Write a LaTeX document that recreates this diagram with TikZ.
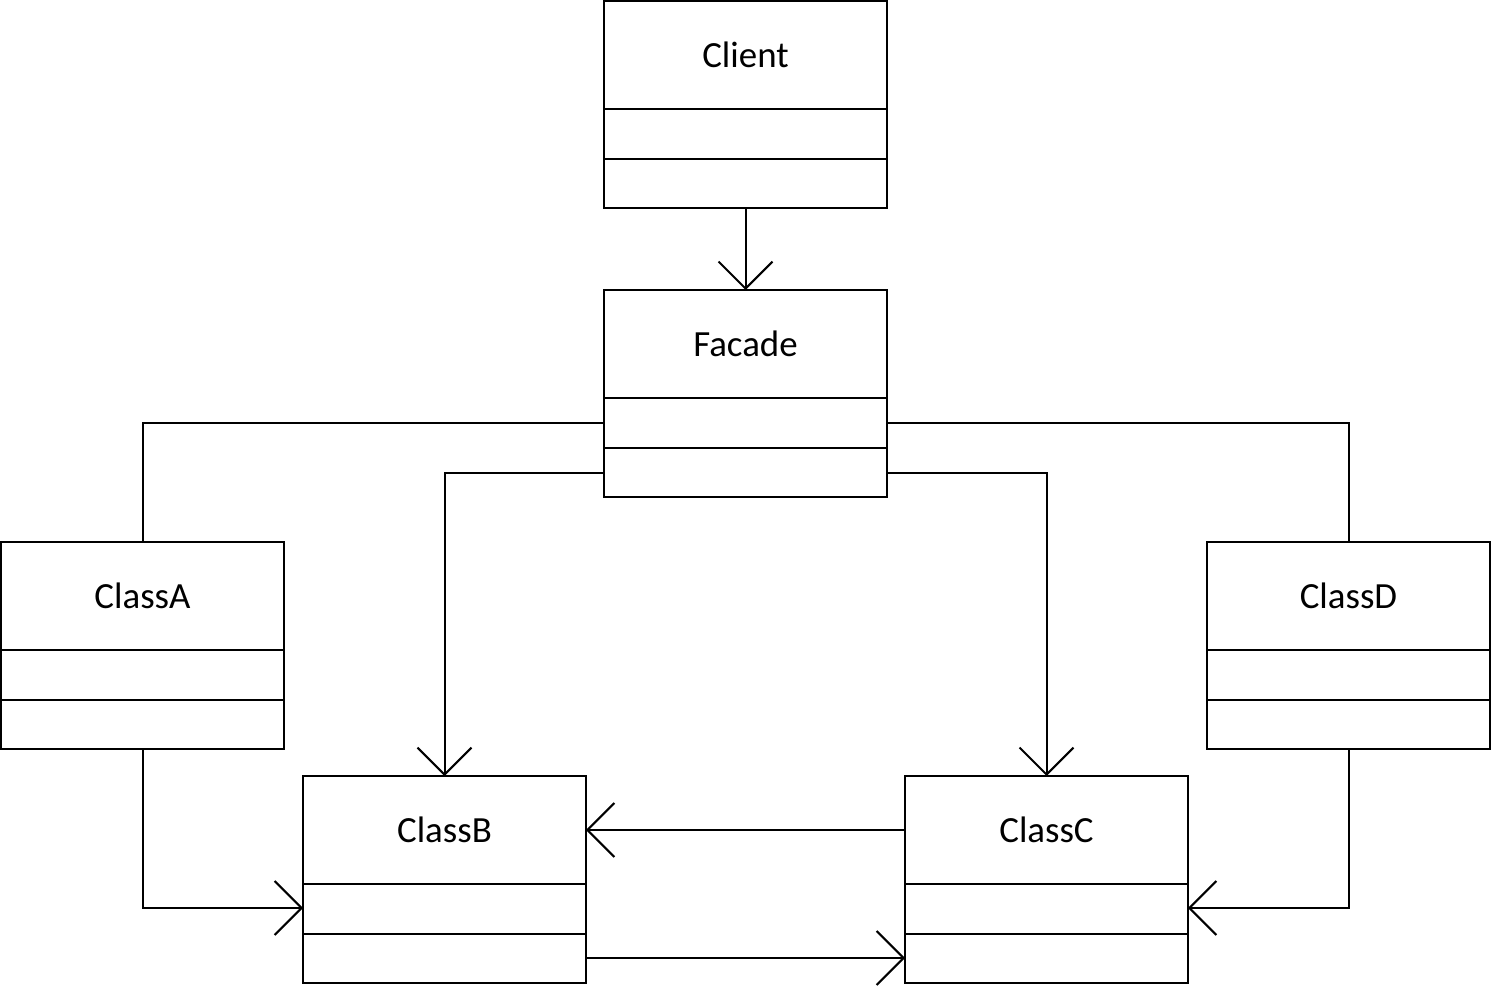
\documentclass[tikz,border=0pt]{standalone}
\usepackage{fontspec}
\setmainfont{Carlito}
\usetikzlibrary{calc,arrows.meta}
\tikzset{
  classbox/.style={draw, line width=0.04cm, minimum width=5.66cm, minimum height=4.14cm, inner sep=0pt, outer sep=0pt},
  titletext/.style={font=\fontsize{21}{25}\selectfont, inner sep=0pt},
  conn/.style={line width=0.04cm},
  arr/.style={conn, -{Straight Barb[length=0.54cm,width=1.08cm,line width=0.04cm]}},
}
\newcommand\umlbox[4]{%
  \node[classbox, anchor=north] (#1) at (#2,#3) {};
  \node[titletext] (#1-t) at ($(#1.north)+(0,54)$) {#4};
  \draw[conn] ($(#1.north west)+(0,108)$) -- ($(#1.north east)+(0,108)$);
  \draw[conn] ($(#1.north west)+(0,158)$) -- ($(#1.north east)+(0,158)$);
}
\begin{document}
\begin{tikzpicture}[x=0.02cm,y=-0.02cm]
\useasboundingbox (0,0) rectangle (1491,993);
\umlbox{client}{745.5}{1}{Client}
\umlbox{facade}{745.5}{290}{Facade}
\umlbox{classA}{142.5}{542}{ClassA}
\umlbox{classD}{1348.5}{542}{ClassD}
\umlbox{classB}{444.5}{776}{ClassB}
\umlbox{classC}{1046.5}{776}{ClassC}
\draw[arr] (client.south) -- (facade.north);
\draw[conn] ($(facade.north west)+(0,133)$) -| (classA.north);
\draw[conn] ($(facade.north east)+(0,133)$) -| (classD.north);
\draw[arr] ($(facade.north west)+(0,183)$) -| (classB.north);
\draw[arr] ($(facade.north east)+(0,183)$) -| (classC.north);
\draw[arr] ($(classC.north west)+(0,54)$) -- ($(classB.north east)+(0,54)$);
\draw[arr] (classA.south) |- ($(classB.north west)+(0,132)$);
\draw[arr] (classD.south) |- ($(classC.north east)+(0,132)$);
\draw[arr] ($(classB.north east)+(0,182)$) -- ($(classC.north west)+(0,182)$);
\end{tikzpicture}
\end{document}
